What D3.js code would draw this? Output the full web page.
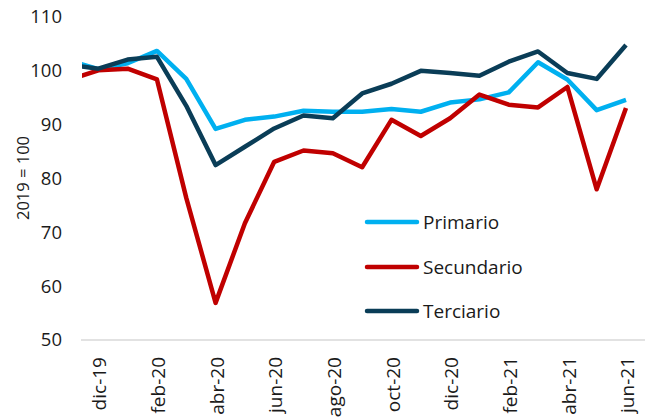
<!DOCTYPE html>
<html>
<head>
<meta charset="utf-8">
<script src="https://cdn.jsdelivr.net/npm/d3@7/dist/d3.min.js"></script>
<style>
  html, body { margin: 0; padding: 0; background: #fff; }
  svg { display: block; }
  text { font-family: "Open Sans", "Noto Sans", sans-serif; fill: #1a1a1a; }
</style>
</head>
<body>
<svg id="chart" width="645" height="417"></svg>
<script>
// ---- data ----
const months = ["nov-19","dic-19","ene-20","feb-20","mar-20","abr-20","may-20","jun-20","jul-20","ago-20",
                "sep-20","oct-20","nov-20","dic-20","ene-21","feb-21","mar-21","abr-21","may-21","jun-21"];
const tickLabels = ["dic-19","feb-20","abr-20","jun-20","ago-20","oct-20","dic-20","feb-21","abr-21","jun-21"];
const yTicks = [50, 60, 70, 80, 90, 100, 110];
const primario   = [101.9, 100.3, 101.4, 103.7, 98.5, 89.2, 90.9, 91.5, 92.6, 92.4, 92.4, 92.9, 92.4, 94.1, 94.7, 96.0, 101.6, 98.4, 92.7, 94.6];
const secundario = [98.3, 100.1, 100.4, 98.4, 76.4, 56.9, 71.7, 83.1, 85.2, 84.7, 82.1, 90.9, 87.9, 91.2, 95.6, 93.7, 93.2, 97.0, 78.0, 93.1];
const terciario  = [101.1, 100.4, 102.1, 102.6, 93.5, 82.5, 85.9, 89.3, 91.7, 91.2, 95.8, 97.6, 100.0, 99.6, 99.1, 101.7, 103.6, 99.6, 98.5, 104.8];
const seriesNames = ["Primario", "Secundario", "Terciario"];
const seriesColors = ["#00B0F0", "#C00000", "#0A3D57"];
const yTitle = "2019 = 100";

// ---- layout ----
const svg = d3.select("#chart");
const plotLeft = 82, plotRight = 645;

const x = d3.scalePoint().domain(months).range([69, 626]);
const y = d3.scaleLinear().domain([50, 110]).range([340, 17]);

svg.append("defs").append("clipPath").attr("id", "clip")
  .append("rect").attr("x", plotLeft).attr("y", 0)
  .attr("width", plotRight - plotLeft).attr("height", 417);

// x axis line
svg.append("line")
  .attr("x1", plotLeft - 1).attr("x2", plotRight)
  .attr("y1", y(50)).attr("y2", y(50))
  .attr("stroke", "#d9d9d9").attr("stroke-width", 1.5);

// y axis
const yAxis = d3.axisLeft(y).tickValues(yTicks).tickSize(0).tickPadding(0);
const gy = svg.append("g").attr("transform", "translate(62,0)").call(yAxis);
gy.select(".domain").remove();
gy.selectAll("text").style("font-size", "18.5px").attr("fill", "#1a1a1a")
  .style("font-family", "'Open Sans', sans-serif");

// x axis labels
const xAxis = d3.axisBottom(x).tickValues(tickLabels).tickSize(0).tickPadding(0);
const gx = svg.append("g").attr("transform", `translate(0,${y(50)})`).call(xAxis);
gx.select(".domain").remove();
gx.selectAll("text")
  .style("font-size", "19px").attr("fill", "#1a1a1a")
  .style("font-family", "'Open Sans', sans-serif")
  .attr("text-anchor", "end")
  .attr("transform", "rotate(-90)")
  .attr("x", -17).attr("y", 1).attr("dy", "0.35em");

// y title
svg.append("text")
  .attr("transform", `translate(23,${178}) rotate(-90)`)
  .attr("text-anchor", "middle").attr("dy", "0.35em")
  .style("font-size", "16.5px")
  .text(yTitle);

// lines
const allSeries = [primario, secundario, terciario];
const line = d3.line().x((d, i) => x(months[i])).y(d => y(d));
const gLines = svg.append("g").attr("clip-path", "url(#clip)");
allSeries.forEach((vals, k) => {
  gLines.append("path")
    .datum(vals)
    .attr("d", line)
    .attr("fill", "none")
    .attr("stroke", seriesColors[k])
    .attr("stroke-width", 4.5)
    .attr("stroke-linejoin", "round");
});

// legend
const legY = [222, 267, 311];
seriesNames.forEach((name, k) => {
  svg.append("line")
    .attr("x1", 367).attr("x2", 417)
    .attr("y1", legY[k]).attr("y2", legY[k])
    .attr("stroke", seriesColors[k]).attr("stroke-width", 4.5)
    .attr("stroke-linecap", "round");
  svg.append("text")
    .attr("x", 423).attr("y", legY[k]).attr("dy", "0.35em")
    .style("font-size", "19px")
    .text(name);
});
</script>
</body>
</html>
